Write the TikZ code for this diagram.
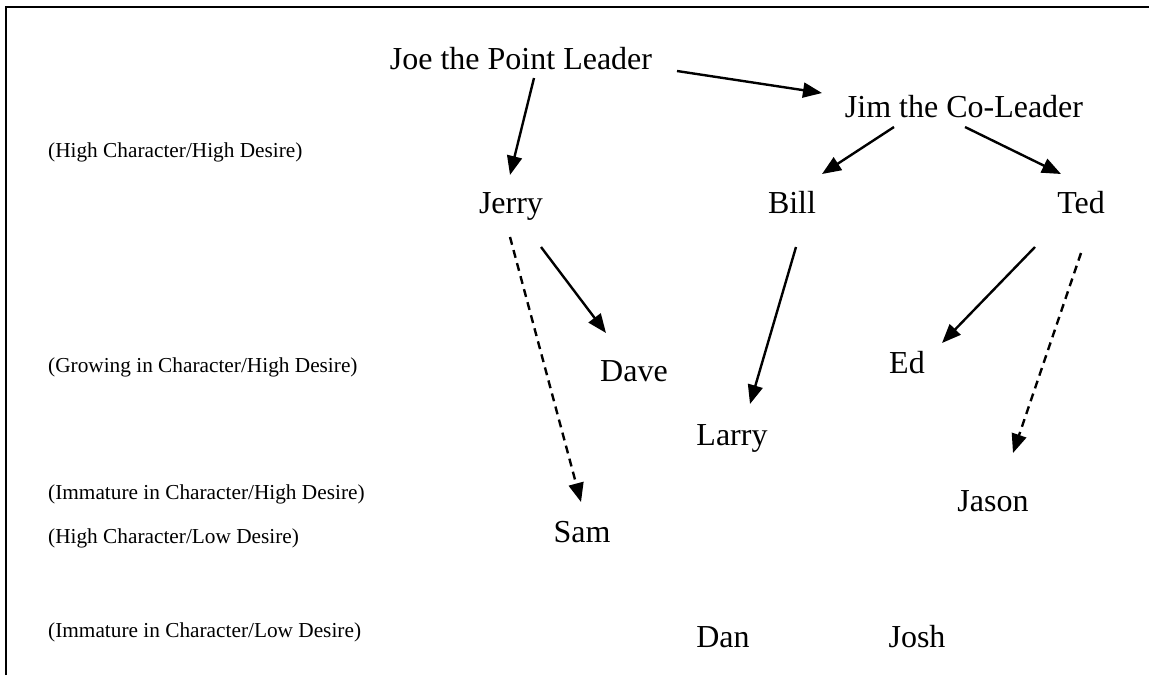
\documentclass[tikz,border=0pt]{standalone}
\usepackage{fontspec}
\setmainfont{Liberation Serif}
\usetikzlibrary{arrows.meta}
\tikzset{
  big/.style={font=\fontsize{32}{38}\selectfont, inner sep=0pt, anchor=base},
  small/.style={font=\fontsize{21.3}{25}\selectfont, inner sep=0pt, anchor=base west},
  arr/.style={line width=2.4pt, -{Triangle[length=19pt,width=15pt]}},
  darr/.style={arr, dash pattern=on 8pt off 5.5pt},
  frame/.style={line width=2pt}
}
\begin{document}
\begin{tikzpicture}[x=1pt,y=-1pt]
\useasboundingbox (0,0) rectangle (1149,675);
\draw[frame] (6,675) -- (6,7) -- (1149,7);
% level labels
\node[small] (l1) at (48,157) {(High Character/High Desire)};
\node[small] (l2) at (48,372) {(Growing in Character/High Desire)};
\node[small] (l3) at (48,499) {(Immature in Character/High Desire)};
\node[small] (l4) at (48,543) {(High Character/Low Desire)};
\node[small] (l5) at (48,637) {(Immature in Character/Low Desire)};
% people
\node[big] (joe) at (521,69) {Joe the Point Leader};
\node[big] (jim) at (964,117) {Jim the Co-Leader};
\node[big] (jerry) at (511,213) {Jerry};
\node[big] (bill) at (792,213) {Bill};
\node[big] (ted) at (1081,213) {Ted};
\node[big] (dave) at (634,381) {Dave};
\node[big] (ed) at (907,373) {Ed};
\node[big] (larry) at (732,445) {Larry};
\node[big] (jason) at (993,511) {Jason};
\node[big] (sam) at (582,542) {Sam};
\node[big] (dan) at (723,647) {Dan};
\node[big] (josh) at (917,647) {Josh};
% connectors
\draw[arr] ([shift={(156,2)}]joe.base) -- ([shift={(-142,-24)}]jim.base);
\draw[arr] ([shift={(13,9)}]joe.base) -- ([shift={(-1,-38)}]jerry.base);
\draw[arr] ([shift={(-70,10)}]jim.base) -- ([shift={(30,-39)}]bill.base);
\draw[arr] ([shift={(1,10)}]jim.base) -- ([shift={(-20,-39)}]ted.base);
\draw[arr] ([shift={(30,34)}]jerry.base) -- ([shift={(-28,-48)}]dave.base);
\draw[darr] ([shift={(-1,24)}]jerry.base) -- ([shift={(-1,-40)}]sam.base);
\draw[arr] ([shift={(4,34)}]bill.base) -- ([shift={(18,-41)}]larry.base);
\draw[arr] ([shift={(-46,34)}]ted.base) -- ([shift={(35,-30)}]ed.base);
\draw[darr] ([shift={(0,40)}]ted.base) -- ([shift={(20,-58)}]jason.base);
\end{tikzpicture}
\end{document}
